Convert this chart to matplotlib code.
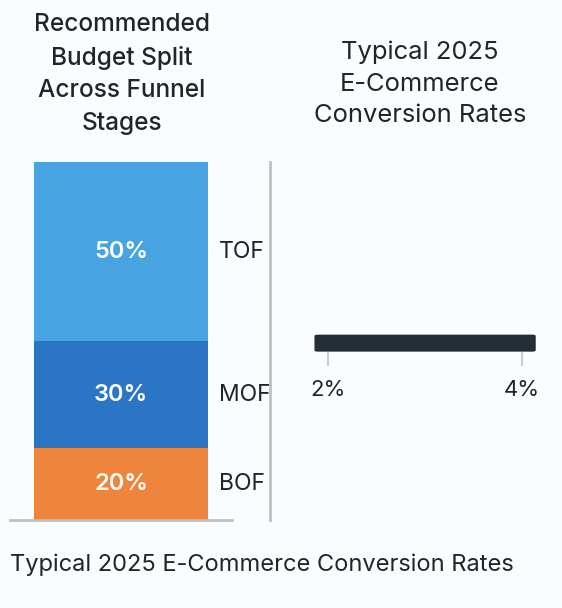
import matplotlib
matplotlib.use('Agg')
import matplotlib.pyplot as plt
from matplotlib.patches import FancyBboxPatch

plt.rcParams['font.family'] = ['Inter', 'DejaVu Sans']

# funnel budget split
stages = ['TOF', 'MOF', 'BOF']
shares = [50, 30, 20]
stage_colors = ['#47a4e0', '#2a75c4', '#ef853d']

# conversion rate range
rate_low = 2
rate_high = 4
rate_ticks = [2, 4]
rate_labels = ['2%', '4%']

bg = '#fbfcfd'
txt = '#1f252b'
grey = '#b9c1c9'

W, H = 562, 608
fig = plt.figure(figsize=(W / 100, H / 100), dpi=100)
fig.patch.set_facecolor(bg)

def box(x0, y0, x1, y1):
    return [x0 / W, 1 - y1 / H, (x1 - x0) / W, (y1 - y0) / H]

# left: stacked bar
ax1 = fig.add_axes(box(10, 162, 232, 520))
ax1.set_facecolor('none')
bottom = 0
for st, val, col in zip(stages[::-1], shares[::-1], stage_colors[::-1]):
    ax1.bar(0.5, val, width=0.784, bottom=bottom, color=col, linewidth=0)
    mid = bottom + val / 2
    ax1.text(0.5, mid, f'{val}%', ha='center', va='center', color='white',
             fontsize=17, fontweight='semibold')
    ax1.text(0.94, mid, st, ha='left', va='center', color=txt, fontsize=16.5,
             clip_on=False)
    bottom += val
ax1.set_xlim(0, 1)
ax1.set_ylim(0, sum(shares))
for s in ['top', 'right', 'left']:
    ax1.spines[s].set_visible(False)
ax1.spines['bottom'].set_color(grey)
ax1.spines['bottom'].set_linewidth(2)
ax1.set_xticks([])
ax1.set_yticks([])

# right: range bar
ax2 = fig.add_axes(box(270, 162, 560, 520))
ax2.set_facecolor('none')
ax2.set_xlim(1.402, 4.39)
ax2.set_ylim(0, 1)
bar_y = 0.494
bar_h = 7 / 358
pad = 0.14
rng = FancyBboxPatch((rate_low, bar_y - bar_h / 2), rate_high - rate_low, bar_h,
                     boxstyle=f'round,pad={pad},rounding_size=0.035',
                     mutation_aspect=0.1, facecolor='#252e36',
                     edgecolor='none', zorder=3)
ax2.add_patch(rng)
for s in ['top', 'right', 'bottom']:
    ax2.spines[s].set_visible(False)
ax2.spines['left'].set_color(grey)
ax2.spines['left'].set_linewidth(2)
ax2.spines['bottom'].set_position(('data', 0.469))
ax2.set_yticks([])
ax2.set_xticks(rate_ticks)
ax2.set_xticklabels(rate_labels)
ax2.tick_params(axis='x', length=10, width=1.5, color='#c5ccd3', pad=10,
                labelsize=16, labelcolor=txt)

fig.text(122 / W, 1 - 74 / H, 'Recommended\nBudget Split\nAcross Funnel\nStages',
         ha='center', va='center', fontsize=17.6, fontweight='medium',
         color=txt, linespacing=1.51)
fig.text(420 / W, 1 - 84 / H, 'Typical 2025\nE-Commerce\nConversion Rates',
         ha='center', va='center', fontsize=18.4, color=txt, linespacing=1.47)
fig.text(10 / W, 1 - 565 / H, 'Typical 2025 E-Commerce Conversion Rates',
         ha='left', va='center', fontsize=17, color=txt)

fig.savefig('out.png', dpi=100, facecolor=bg)
